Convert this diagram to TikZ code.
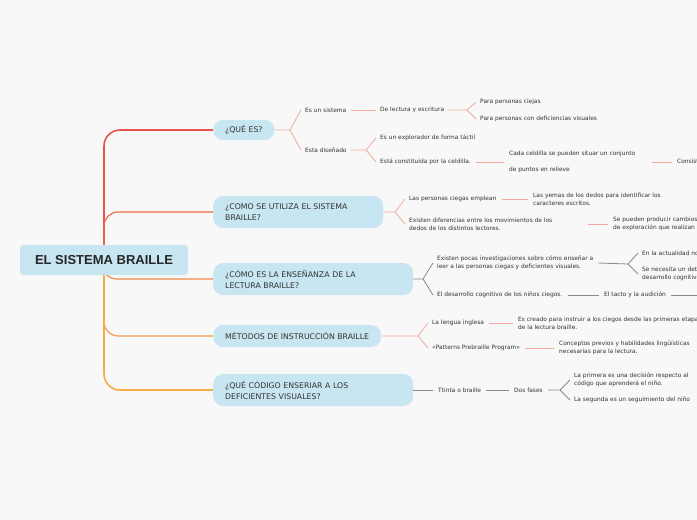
\documentclass[tikz,border=0pt]{standalone}
\usepackage{fontspec}
\setmainfont{DejaVu Sans}
\newfontfamily\rootfont{Liberation Sans}
\definecolor{bg}{HTML}{F8F8F8}
\definecolor{tb}{HTML}{C7E6F1}
\definecolor{tx}{HTML}{333333}
\definecolor{sal}{HTML}{F4A99C}
\definecolor{gr}{HTML}{8A8A8A}
\definecolor{c1}{HTML}{E8524A}
\definecolor{c2}{HTML}{EC6A4A}
\definecolor{c3}{HTML}{F0894A}
\definecolor{c4}{HTML}{F29A50}
\definecolor{c5}{HTML}{F5AE45}
\tikzset{
 lf/.style={anchor=west,inner sep=0pt,text=tx,font=\fontsize{5.9}{8}\selectfont,align=left},
 topic/.style={fill=tb,rounded corners=10pt,anchor=west,text=tx,font=\fontsize{7.8}{11}\selectfont,align=left,inner xsep=12pt,inner ysep=3pt},
 sl/.style={draw=sal,line width=0.8pt},
 gl/.style={draw=gr,line width=0.8pt},
 rootbox/.style={fill=tb,rounded corners=3pt,minimum width=168pt,minimum height=30pt,text=black!85,font=\rootfont\bfseries\fontsize{13}{14}\selectfont},
}
\begin{document}
\begin{tikzpicture}[x=1pt,y=-1pt]
\fill[bg] (0,0) rectangle (697,520);
\useasboundingbox (0,0) rectangle (697,520);
\clip (0,0) rectangle (697,520);
\coordinate (rc) at (104,260);
\draw[c1,line width=1.6pt,rounded corners=16pt] (rc) -- (104,130) -- (213,130);
\draw[c2,line width=1.2pt,rounded corners=14pt] (rc) -- (104,212) -- (213,212);
\draw[c3,line width=1.2pt,rounded corners=12pt] (rc) -- (104,279) -- (213,279);
\draw[c4,line width=1.2pt,rounded corners=14pt] (rc) -- (104,336) -- (213,336);
\draw[c5,line width=1.6pt,rounded corners=16pt] (rc) -- (104,390) -- (213,390);
% root
\node[rootbox] (root) at (rc) {EL SISTEMA BRAILLE};
% topics
\node[topic,minimum height=20pt] (t1) at (213,130) {¿QUÉ ES?};
\node[topic,minimum height=32pt,text width=146pt] (t2) at (213,212) {¿COMO SE UTILIZA EL SISTEMA\\BRAILLE?};
\node[topic,minimum height=32pt,text width=176pt] (t3) at (213,279) {¿CÓMO ES LA ENSEÑANZA DE LA\\LECTURA BRAILLE?};
\node[topic,minimum height=22pt] (t4) at (213,336) {MÉTODOS DE INSTRUCCIÓN BRAILLE};
\node[topic,minimum height=32pt,text width=176pt] (t5) at (213,390) {¿QUÉ CÓDIGO ENSERIAR A LOS\\DEFICIENTES VISUALES?};
% T1
\node[lf] (a1) at (305,110) {Es un sistema};
\node[lf] (a2) at (305,150) {Esta diseñado};
\coordinate (f1) at (290,130);
\draw[sl] (t1.east) -- (f1) -- ([xshift=-4pt]a1.west) (f1) -- ([xshift=-4pt]a2.west);
\node[lf] (a11) at (380,110) {De lectura y escritura};
\draw[sl] ([xshift=4pt]a1.east) -- ([xshift=-4pt]a11.west);
\node[lf] (a111) at (480,102) {Para personas ciejas};
\node[lf] (a112) at (480,119) {Para personas con deficiencias visuales};
\coordinate (f2) at (467,110);
\draw[sl] ([xshift=4pt]a11.east) -- (f2) -- ([xshift=-4pt]a111.west) (f2) -- ([xshift=-4pt]a112.west);
\node[lf] (a21) at (380,138) {Es un explorador de forma táctil};
\node[lf] (a22) at (380,162) {Está constituída por la celdilla.};
\coordinate (f3) at (366,150);
\draw[sl] ([xshift=4pt]a2.east) -- (f3) -- ([xshift=-4pt]a21.west) (f3) -- ([xshift=-4pt]a22.west);
\node[lf] (a221) at (509,162) {Cada celdilla se pueden situar un conjunto\\[8pt]de puntos en relieve};
\draw[sl] ([xshift=5pt]a22.east) -- ([xshift=-5pt]a221.west);
\node[lf] (a2211) at (677,162) {Consiste en seis puntos};
\coordinate (g1) at (652,162);
\draw[sl] (g1) -- ([xshift=-5pt]a2211.west);
% T2
\node[lf] (b1) at (409,199) {Las personas ciegas emplean};
\node[lf] (b2) at (409,224) {Existen diferencias entre los movimientos de los\\dedos de los distintos lectores.};
\coordinate (f4) at (395,212);
\draw[sl] (t2.east) -- (f4) -- ([xshift=-4pt]b1.west) (f4) -- ([xshift=-4pt]b2.west);
\node[lf] (b11) at (533,199) {Las yemas de los dedos para identificar los\\caracteres escritos.};
\draw[sl] ([xshift=5pt]b1.east) -- ([xshift=-5pt]b11.west);
\node[lf] (b21) at (613,224) {Se pueden producir cambios en la forma\\de exploración que realizan};
\coordinate (g2) at (588,224);
\draw[sl] (g2) -- ([xshift=-5pt]b21.west);
% T3
\node[lf] (c31) at (437,263) {Existen pocas investigaciones sobre cómo enseñar a\\leer a las personas ciegas y deficientes visuales.};
\node[lf] (c32) at (437,295) {El desarrollo cognitivo de los niños ciegos.};
\coordinate (f5) at (423,279);
\draw[gl] (t3.east) -- (f5) -- ([xshift=-4pt]c31.west) (f5) -- ([xshift=-4pt]c32.west);
\node[lf] (c311) at (642,253) {En la actualidad no existen};
\node[lf] (c312) at (642,274) {Se necesita un determinado\\desarrollo cognitivo};
\coordinate (f6) at (628,264);
\draw[gl] ([xshift=5pt]c31.east) -- (f6) -- ([xshift=-4pt]c311.west) (f6) -- ([xshift=-4pt]c312.west);
\node[lf] (c321) at (604,295) {El tacto y la audición};
\draw[gl] ([xshift=5pt]c32.east) -- ([xshift=-5pt]c321.west);
\coordinate (g3) at (697,295);
\draw[gl] ([xshift=5pt]c321.east) -- (g3);
% T4
\node[lf] (d1) at (432,323) {La lengua inglesa};
\node[lf] (d2) at (432,348) {«Patterns Prebraille Program»};
\coordinate (f7) at (418,336);
\draw[sl] (t4.east) -- (f7) -- ([xshift=-4pt]d1.west) (f7) -- ([xshift=-4pt]d2.west);
\node[lf] (d11) at (518,323) {Es creado para instruir a los ciegos desde las primeras etapas\\de la lectura braille.};
\draw[sl] ([xshift=5pt]d1.east) -- ([xshift=-5pt]d11.west);
\node[lf] (d21) at (559,348) {Conceptos previos y habilidades lingüísticas\\necesarias para la lectura.};
\draw[sl] ([xshift=5pt]d2.east) -- ([xshift=-5pt]d21.west);
% T5
\node[lf] (e1) at (438,390) {Ttinta o braille};
\draw[gl] (t5.east) -- ([xshift=-5pt]e1.west);
\node[lf] (e2) at (514,390) {Dos fases};
\draw[gl] ([xshift=5pt]e1.east) -- ([xshift=-5pt]e2.west);
\node[lf] (e21) at (574,380) {La primera es una decisión respecto al\\ código que aprenderá el niño.};
\node[lf] (e22) at (574,400) {La segunda es un seguimiento del niño};
\coordinate (f8) at (560,390);
\draw[gl] ([xshift=5pt]e2.east) -- (f8) -- ([xshift=-4pt]e21.west) (f8) -- ([xshift=-4pt]e22.west);
\end{tikzpicture}
\end{document}
